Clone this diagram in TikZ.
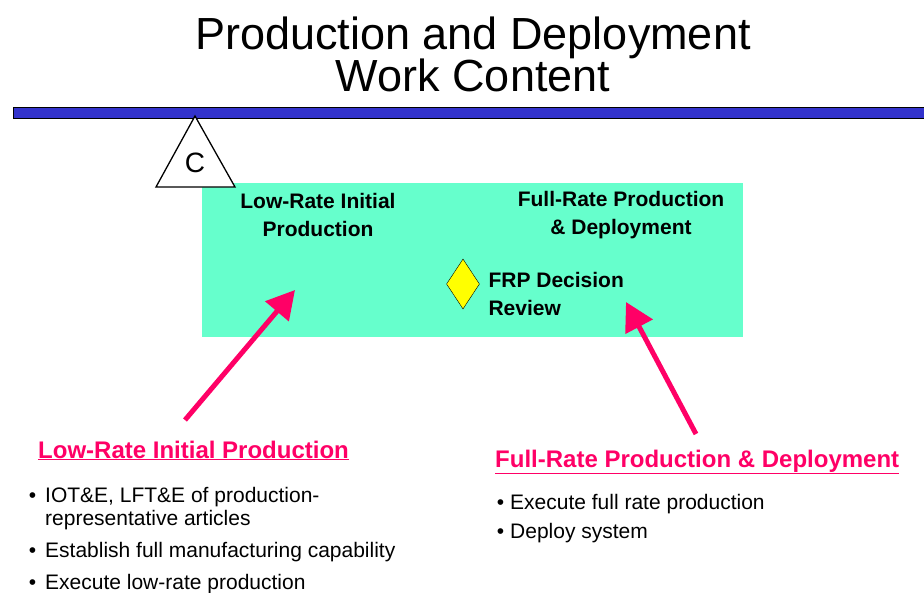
\documentclass[tikz,border=0pt]{standalone}
\usepackage{fontspec}
\setmainfont{Liberation Sans}
\usetikzlibrary{arrows.meta, positioning, shapes.geometric}
\definecolor{barblue}{HTML}{3333CC}
\definecolor{phaseteal}{HTML}{66FFCC}
\definecolor{hotpink}{HTML}{FF0066}
\definecolor{frpyellow}{HTML}{FFFF00}

\begin{document}
\begin{tikzpicture}[x=1pt, y=-1pt,
    phase/.style={font=\bfseries\fontsize{21}{28}\selectfont, align=center},
    head/.style={font=\bfseries\fontsize{24}{24}\selectfont, text=hotpink, anchor=base west, inner sep=0pt},
    bullet/.style={font=\fontsize{21}{23}\selectfont, align=left, anchor=base west, inner sep=0pt},
    pointer/.style={draw=hotpink, line width=5pt, -{Triangle[length=28pt, width=30pt]}}]
    \useasboundingbox (0,0) rectangle (924,592);
    % title and milestone bar
    \node[font=\fontsize{45}{42}\selectfont, align=center] (title) at (473,54) {Production and Deployment\\Work Content};
    \draw[fill=barblue, line width=1pt] (13,107) rectangle (930,118);
    \node[phase, fill=phaseteal, minimum width=541pt, minimum height=154pt, anchor=north west] (box) at (202,183) {};
    \draw[fill=white, line width=1.3pt] (195,116) -- (235,187) -- (156,187) -- cycle;
    \node[font=\fontsize{28}{28}\selectfont] (C) at (195,163) {C};
    % phases inside the box
    \node[phase] (lrip) at (318,215) {Low-Rate Initial\\Production};
    \node[phase] (frpd) at (621,215) {Full-Rate Production\\\& Deployment};
    \node[diamond, draw, fill=frpyellow, minimum width=33pt, minimum height=50pt, inner sep=0pt] (frp) at (463,284) {};
    \node[phase, align=left, anchor=west] (review) at (485,294) {FRP Decision\\Review};
    % descriptions
    \node[head] (lripHead) at (38,458) {\underline{Low-Rate Initial Production}};
    \node[bullet] (b1) at (45,525) {\llap{\textbullet\hspace{9pt}}IOT\&E, LFT\&E of production-\\representative articles};
    \node[bullet] (b2) at (45,557) {\llap{\textbullet\hspace{9pt}}Establish full manufacturing capability};
    \node[bullet] (b3) at (45,589) {\llap{\textbullet\hspace{9pt}}Execute low-rate production};
    \node[head] (frpdHead) at (495,467) {\underline{Full-Rate Production \& Deployment}};
    \node[bullet] (b4) at (510,509) {\llap{\textbullet\hspace{6pt}}Execute full rate production};
    \node[bullet] (b5) at (510,538) {\llap{\textbullet\hspace{6pt}}Deploy system};
    % pointers
    \coordinate (lripTail) at (185,420);
    \coordinate (lripTip) at (295,290);
    \coordinate (frpdTail) at (696,434);
    \coordinate (frpdTip) at (626,302);
    \draw[pointer] (lripTail) -- (lripTip);
    \draw[pointer] (frpdTail) -- (frpdTip);
\end{tikzpicture}
\end{document}
